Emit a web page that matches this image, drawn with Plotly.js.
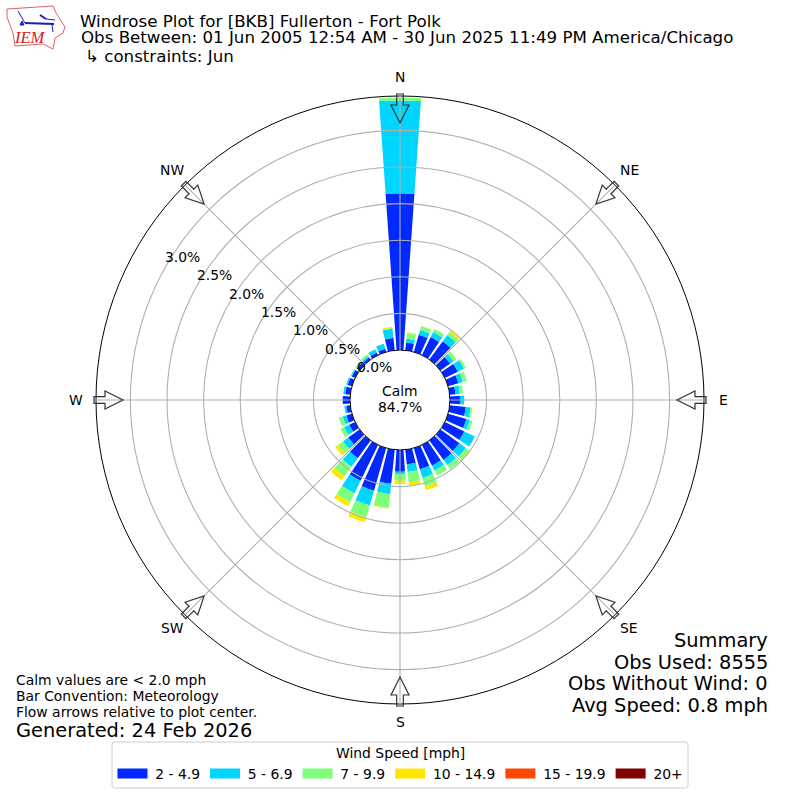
<!DOCTYPE html>
<html><head><meta charset="utf-8">
<script src="https://cdn.plot.ly/plotly-3.0.1.min.js"></script>
<style>html,body{margin:0;padding:0;background:#fff}</style></head>
<body><div id="chart" style="width:800px;height:800px"></div>
<script>
const directions=[0,10,20,30,40,50,60,70,80,90,100,110,120,130,140,150,160,170,180,190,200,210,220,230,240,250,260,270,280,290,300,310,320,330,340,350];
const speed2to5=[2.14,.108,.245,.273,.31,.165,.195,.146,.08,.137,.22,.26,.295,.32,.33,.315,.30,.20,.296,.469,.605,.546,.30,.19,.09,.08,.055,.10,.07,.06,.05,.045,.035,.04,.045,.169];
const speed5to7=[1.27,.052,.065,.077,.103,.055,.095,.064,.06,.058,.067,.05,.16,.11,.09,.075,.125,.107,.032,.141,.21,.189,.146,.09,.078,.05,.027,0,.027,.02,.015,.015,.025,.05,.073,.127];
const speed7to10=[.04,.077,.057,.046,.047,.05,.03,.058,.043,0,.023,.04,0,.06,.067,.075,.122,.14,.092,.19,.169,.135,.164,.084,.055,.057,0,0,0,0,.005,.015,.026,0,0,.014];
const speed10to15=[0,.009,0,0,.029,0,0,0,0,0,.007,0,0,.01,0,0,.053,.048,.044,.01,.072,.06,.064,.046,0,0,0,0,0,0,0,0,0,0,0,.013];
const speed15to20=[0,0,0,0,0,0,0,0,0,0,0,0,0,0,0,0,0,0,0,0,0,0,0,0,0,0,0,0,0,0,0,0,0,0,0,0];
const speed20up=[0,0,0,0,0,0,0,0,0,0,0,0,0,0,0,0,0,0,0,0,0,0,0,0,0,0,0,0,0,0,0,0,0,0,0,0];
const seriesNames=["2 - 4.9","5 - 6.9","7 - 9.9","10 - 14.9","15 - 19.9","20+"];
const seriesColors=["#0028ff","#00d5ff","#7dff7a","#ffe600","#ff4700","#7f0000"];
const seriesValues=[speed2to5,speed5to7,speed7to10,speed10to15,speed15to20,speed20up];
const radialTicks=[0,.5,1,1.5,2,2.5,3];
const radialLabels=["0.0%","0.5%","1.0%","1.5%","2.0%","2.5%","3.0%"];
const compassAngles=[0,45,90,135,180,225,270,315];
const compassLabels=["N","NE","E","SE","S","SW","W","NW"];

const F="DejaVu Sans";
const CX=400,CY=400,R=304,HOLE=50,PER=73.2;
const traces=seriesValues.map((v,i)=>({type:"barpolar",r:v,theta:directions,width:8,name:seriesNames[i],
  marker:{color:seriesColors[i],line:{width:0}},showlegend:false,hoverinfo:"skip"}));
seriesNames.forEach((n,i)=>traces.push({type:"scatterpolar",mode:"lines",r:[null,null],theta:[0,0],name:"\u2009"+n,
  line:{color:seriesColors[i],width:10},showlegend:true,hoverinfo:"skip"}));

const px=(x,y)=>[(x/800).toFixed(5),(1-y/800).toFixed(5)];
function P(pts,close){return "M"+pts.map(p=>px(p[0],p[1]).join(",")).join("L")+(close?"Z":"");}
const base={type:"path",xref:"paper",yref:"paper",layer:"above"};
const polarPt=(a,r)=>{const t=a*Math.PI/180;return [CX+r*Math.sin(t),CY-r*Math.cos(t)];};
function arrow(a){const t=a*Math.PI/180,s=Math.sin(t),c=Math.cos(t);
  const L=(r,w)=>[CX+r*s+w*c,CY-r*c+w*s];
  return {...base,line:{color:"#333333",width:1.2},fillcolor:"rgba(255,255,255,0)",
    path:P([L(306,-3.3),L(306,3.3),L(295,3.3),L(295,9),L(277,0),L(295,-9),L(295,-3.3)],true)};}
const shapes=[];
// grid above the bars, as in the reference
radialTicks.slice(1).forEach(t=>{const r=HOLE+t*PER;
  shapes.push({type:"circle",xref:"paper",yref:"paper",layer:"above",line:{color:"#b0b0b0",width:1.1},
    x0:(CX-r)/800,x1:(CX+r)/800,y0:1-(CY+r)/800,y1:1-(CY-r)/800});});
compassAngles.forEach(a=>shapes.push({...base,line:{color:"#b0b0b0",width:1.1},path:P([polarPt(a,HOLE),polarPt(a,R)])}));
compassAngles.forEach(a=>shapes.push(arrow(a)));
// legend frame
shapes.push({...base,layer:"below",line:{color:"#cccccc",width:1},fillcolor:"#fff",
  path:P([[115,742],[685,742]])+"Q"+px(688,742).join(",")+" "+px(688,745).join(",")+"L"+px(688,785).join(",")+"Q"+px(688,788).join(",")+" "+px(685,788).join(",")+"L"+px(115,788).join(",")+"Q"+px(112,788).join(",")+" "+px(112,785).join(",")+"L"+px(112,745).join(",")+"Q"+px(112,742).join(",")+" "+px(115,742).join(",")+"Z"});
// logo
shapes.push({...base,line:{color:"#e06060",width:1},
  path:P([[7,9],[53,6],[56,13],[65,27],[63,33],[55,38],[53,49],[43,44],[15,46],[13,33],[7,17]],true)});
shapes.push({...base,line:{color:"#1a1acc",width:2},path:P([[25,23],[54,24]])+P([[40,15],[46,19]])});
shapes.push({...base,line:{color:"#1a1acc",width:1},path:P([[25,23],[18,11]])+P([[46,19],[55,20]])+P([[52,25],[53,32]])});
shapes.push({...base,line:{color:"#1a1acc",width:1},fillcolor:"#1a1acc",path:P([[20,25],[24,25],[22,21]],true)});

function ann(text,x,y,size,anchor){return {text,xref:"paper",yref:"paper",x:x/800,y:1-y/800,xanchor:anchor||"left",yanchor:"middle",
  showarrow:false,align:anchor==="right"?"right":(anchor==="center"?"center":"left"),font:{family:F,size,color:"#000"},borderpad:0};}
const annotations=[
 ann("Obs Between: 01 Jun 2005 12:54 AM - 30 Jun 2025 11:49 PM America/Chicago",80,37,16.67),
 ann("↳ constraints: Jun",84,56,16.67),
 ann("Calm",400,391,13.9,"center"),
 ann("84.7%",400,407,13.9,"center"),
 ann("Calm values are &lt; 2.0 mph",15,680,13.9),
 ann("Bar Convention: Meteorology",15,696,13.9),
 ann("Flow arrows relative to plot center.",15,712,13.9),
 ann("Generated: 24 Feb 2026",15,730,19.4),
 ann("Summary",769,640,19.4,"right"),
 ann("Obs Used: 8555",769,662,19.4,"right"),
 ann("Obs Without Wind: 0",769,683,19.4,"right"),
 ann("Avg Speed: 0.8 mph",769,705,19.4,"right"),
 ann("Wind Speed [mph]",400,753,13.9,"center"),
 {text:"IEM",xref:"paper",yref:"paper",x:30/800,y:1-38/800,xanchor:"center",yanchor:"middle",showarrow:false,font:{family:"Liberation Serif",size:16.5,color:"#d02020",style:"italic"}}
];
const compassPos={N:[400,77],NE:[629,170],E:[723,400],SE:[629,628],S:[400,722],SW:[172,628],W:[76,400],NW:[172,170]};
compassLabels.forEach(l=>annotations.push(ann(l,compassPos[l][0],compassPos[l][1],13.9,"center")));
radialTicks.forEach((t,i)=>annotations.push(ann(radialLabels[i],374-64*t,367-36.67*t,13.9,"center")));
const layout={width:800,height:800,margin:{l:0,r:0,t:0,b:0},paper_bgcolor:"#fff",showlegend:true,
 font:{family:F,size:13.9,color:"#000"},barmode:"stack",
 title:{text:"Windrose Plot for [BKB] Fullerton - Fort Polk",x:0.1,xanchor:"left",xref:"paper",y:1-21/800,yanchor:"middle",yref:"paper",font:{family:F,size:16.67,color:"#000"}},
 polar:{domain:{x:[96/800,704/800],y:[96/800,704/800]},hole:HOLE/R,bgcolor:"#fff",barmode:"stack",
  angularaxis:{direction:"clockwise",rotation:90,tickmode:"array",tickvals:compassAngles,ticktext:compassLabels,showticklabels:false,
   ticks:"",showgrid:false,showline:true,linecolor:"#000",linewidth:1},
  radialaxis:{range:[0,(R-HOLE)/PER],angle:150,tickmode:"array",tickvals:radialTicks,ticktext:radialLabels,showticklabels:false,showline:false,ticks:"",
   showgrid:false}},
 legend:{orientation:"h",x:112.5/800,xanchor:"left",y:1-774/800,yanchor:"middle",borderwidth:0,bgcolor:"rgba(0,0,0,0)",
  font:{family:F,size:13.9},itemwidth:30,traceorder:"normal"},
 shapes,annotations};
Plotly.newPlot("chart",traces,layout,{staticPlot:true,displayModeBar:false});
</script></body></html>
